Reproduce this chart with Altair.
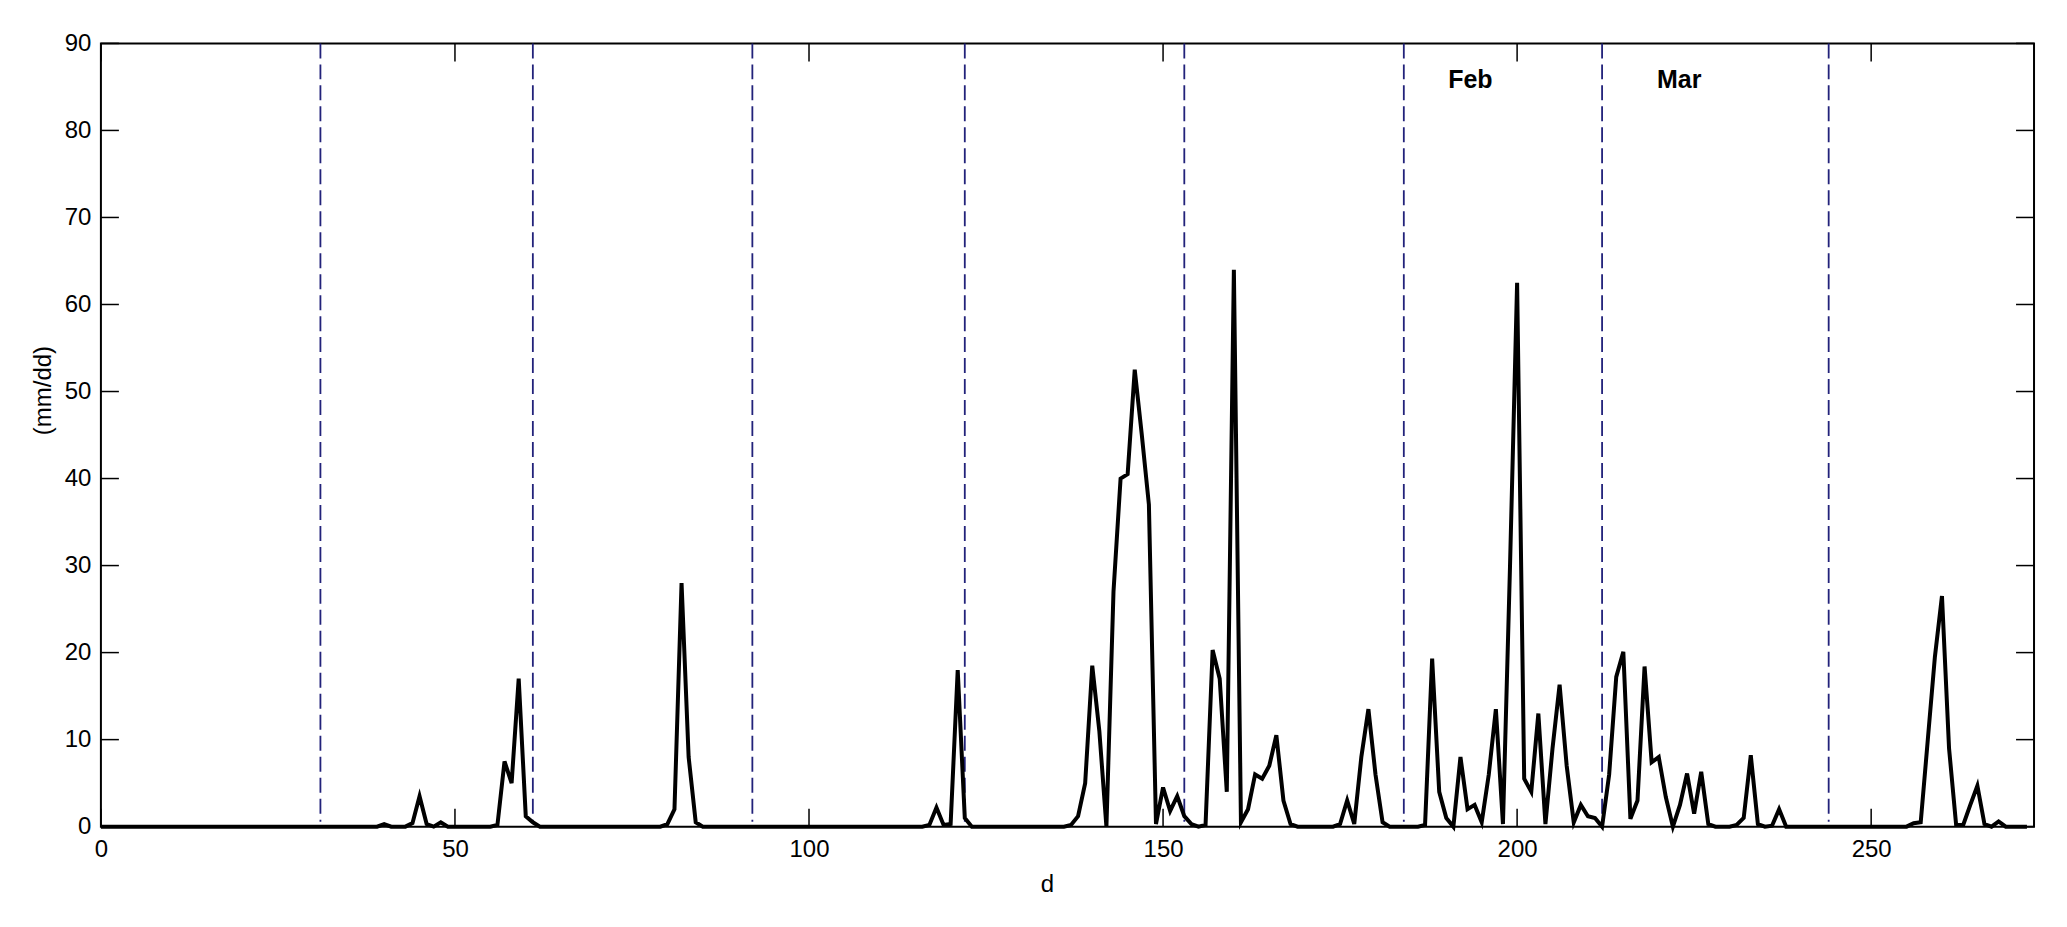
import altair as alt
import pandas as pd

FONT = "Liberation Sans"

# daily values (mm/dd), day index 0..272
values = [
    0, 0, 0, 0, 0, 0, 0, 0, 0, 0,
    0, 0, 0, 0, 0, 0, 0, 0, 0, 0,
    0, 0, 0, 0, 0, 0, 0, 0, 0, 0,
    0, 0, 0, 0, 0, 0, 0, 0, 0, 0,
    0.3, 0, 0, 0, 0.4, 3.5, 0.3, 0, 0.5, 0,            # 40-49
    0, 0, 0, 0, 0, 0, 0.2, 7.5, 5.0, 17.0,             # 50-59
    1.2, 0.5, 0, 0, 0, 0, 0, 0, 0, 0,                  # 60-69
    0, 0, 0, 0, 0, 0, 0, 0, 0, 0,                      # 70-79
    0.3, 2.0, 28.0, 8.0, 0.5, 0, 0, 0, 0, 0,           # 80-89
    0, 0, 0, 0, 0, 0, 0, 0, 0, 0,                      # 90-99
    0, 0, 0, 0, 0, 0, 0, 0, 0, 0,                      # 100-109
    0, 0, 0, 0, 0, 0, 0, 0.2, 2.2, 0.2,                # 110-119
    0.3, 18.0, 1.0, 0, 0, 0, 0, 0, 0, 0,               # 120-129
    0, 0, 0, 0, 0, 0, 0, 0.2, 1.2, 5.0,                # 130-139
    18.5, 11.0, 0, 27.0, 40.0, 40.5, 52.5, 45.0, 37.0, 0.3,   # 140-149
    4.5, 1.8, 3.5, 1.2, 0.3, 0, 0.2, 20.3, 17.0, 4.0,  # 150-159
    64.0, 0.5, 2.0, 6.0, 5.5, 7.0, 10.5, 3.0, 0.3, 0,  # 160-169
    0, 0, 0, 0, 0, 0.3, 3.0, 0.3, 8.0, 13.5,           # 170-179
    6.0, 0.5, 0, 0, 0, 0, 0, 0.2, 19.3, 4.0,           # 180-189
    1.0, 0, 8.0, 2.0, 2.5, 0.5, 6.0, 13.5, 0.3, 30.0,  # 190-199
    62.5, 5.5, 4.0, 13.0, 0.3, 9.0, 16.3, 7.0, 0.5, 2.5,   # 200-209
    1.2, 1.0, 0, 6.0, 17.2, 20.1, 0.9, 3.0, 18.4, 7.4, # 210-219
    8.0, 3.4, 0, 2.5, 6.1, 1.5, 6.3, 0.3, 0, 0,        # 220-229
    0, 0.2, 1.0, 8.2, 0.3, 0, 0.1, 2.0, 0, 0,          # 230-239
    0, 0, 0, 0, 0, 0, 0, 0, 0, 0,                      # 240-249
    0, 0, 0, 0, 0, 0, 0.4, 0.5, 10.0, 19.5,            # 250-259
    26.5, 9.0, 0.2, 0.2, 2.5, 4.7, 0.3, 0, 0.6, 0,     # 260-269
    0, 0, 0,                                           # 270-272
]
days = list(range(len(values)))

month_bounds = [31, 61, 92, 122, 153, 184, 212, 244]
month_labels = ["Feb", "Mar"]
month_label_x = [193.4, 222.9]
month_label_y = [85.8, 85.8]

x_ticks = [0, 50, 100, 150, 200, 250]
y_ticks = [0, 10, 20, 30, 40, 50, 60, 70, 80, 90]

W, H = 1935, 784
TICK = 18

df = pd.DataFrame({"day": days, "value": values})
df_bounds = pd.DataFrame({"day": month_bounds})
df_lab = pd.DataFrame({"day": month_label_x, "value": month_label_y, "label": month_labels})
df_xt = pd.DataFrame({"day": x_ticks})
df_yt = pd.DataFrame({"value": y_ticks})

xscale = alt.Scale(domain=[0, 273], nice=False, zero=False)
yscale = alt.Scale(domain=[0, 90], nice=False, zero=False)

xax = alt.Axis(values=x_ticks, ticks=False, tickSize=0, domain=False, grid=False,
               labelFontSize=24, labelFont=FONT, labelColor="black", labelPadding=11,
               labelFlush=False, title="d", titleFontSize=24, titleFont=FONT,
               titleFontWeight="normal", titleColor="black", titleX=947, titleY=65,
               titleAlign="center", titleBaseline="alphabetic")
yax = alt.Axis(values=y_ticks, ticks=False, tickSize=0, domain=False, grid=False,
               labelFontSize=24, labelFont=FONT, labelColor="black", labelPadding=10,
               labelFlush=False, title="(mm/dd)", titleFontSize=24, titleFont=FONT,
               titleFontWeight="normal", titleColor="black", titleAngle=270,
               titleX=-57, titleY=347, titleAlign="center", titleBaseline="middle")

X = alt.X("day:Q", scale=xscale, axis=xax)
Y = alt.Y("value:Q", scale=yscale, axis=yax)

line = alt.Chart(df).mark_line(color="black", strokeWidth=4).encode(x=X, y=Y)

bounds = alt.Chart(df_bounds).mark_rule(color="#22227a", strokeWidth=1.8, strokeDash=[15, 6]).encode(
    x=X, y=alt.value(0), y2=alt.value(H - 5))

xt_bottom = alt.Chart(df_xt).mark_rule(color="black", strokeWidth=1.5).encode(
    x=X, y=alt.value(H), y2=alt.value(H - TICK))
xt_top = alt.Chart(df_xt).mark_rule(color="black", strokeWidth=1.5).encode(
    x=X, y=alt.value(0), y2=alt.value(TICK))
yt_left = alt.Chart(df_yt).mark_rule(color="black", strokeWidth=1.5).encode(
    y=Y, x=alt.value(0), x2=alt.value(TICK))
yt_right = alt.Chart(df_yt).mark_rule(color="black", strokeWidth=1.5).encode(
    y=Y, x=alt.value(W), x2=alt.value(W - TICK))

labels = alt.Chart(df_lab).mark_text(font=FONT, fontSize=25, fontWeight="bold", color="black",
                                      align="center", baseline="middle").encode(
    x=X, y=Y, text="label:N")

chart = alt.layer(bounds, xt_bottom, xt_top, yt_left, yt_right, line, labels).properties(
    width=W, height=H,
    padding={"left": 93, "top": 35, "right": 25, "bottom": 92},
    autosize=alt.AutoSizeParams(type="none"),
    background="white",
).configure_view(stroke="black", strokeWidth=2)

chart.save("out.html", embed_options={"renderer": "svg", "actions": False})
